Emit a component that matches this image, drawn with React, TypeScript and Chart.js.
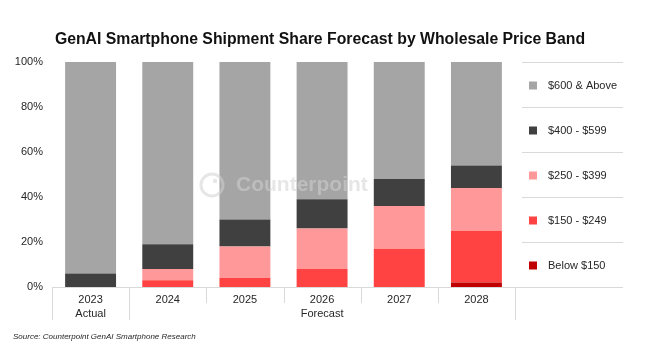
import React, { useEffect, useRef } from "react";
import { Chart, registerables } from "chart.js";

Chart.register(...registerables);

const TITLE = "GenAI Smartphone Shipment Share Forecast by Wholesale Price Band";
const SOURCE = "Source: Counterpoint GenAI Smartphone Research";
const years = ["2023", "2024", "2025", "2026", "2027", "2028"];
const periodGroups = [
  { label: "Actual", from: 0, to: 0 },
  { label: "Forecast", from: 1, to: 5 },
];
const below150 = [0, 0, 0, 0, 0, 2];
const band150 = [0, 3, 4, 8, 17, 23];
const band250 = [0, 5, 14, 18, 19, 19];
const band400 = [6, 11, 12, 13, 12, 10];
const above600 = [94, 81, 70, 61, 52, 46];
const yTicks = [0, 20, 40, 60, 80, 100];

const FONT = "'Liberation Sans', Arial, sans-serif";
const LINE = "#d9d9d9";
const TEXT = "#262626";

const decorPlugin = {
  id: "decor",
  afterDatasetsDraw(chart: any) {
    const { ctx, chartArea } = chart;
    const x = chart.scales.x;
    ctx.save();
    // watermark
    ctx.strokeStyle = "rgba(210,210,210,0.55)";
    ctx.lineWidth = 3;
    ctx.beginPath();
    ctx.arc(212, 185, 11, 0, Math.PI * 2);
    ctx.stroke();
    ctx.fillStyle = "rgba(210,210,210,0.55)";
    ctx.beginPath();
    ctx.arc(215, 181, 2.2, 0, Math.PI * 2);
    ctx.fill();
    ctx.font = `bold 21px ${FONT}`;
    ctx.textBaseline = "middle";
    ctx.textAlign = "left";
    ctx.fillText("Counterpoint", 236, 185);

    // axis baseline
    const bottom = chartArea.bottom;
    const half = (x.getPixelForValue(1) - x.getPixelForValue(0)) / 2;
    ctx.strokeStyle = LINE;
    ctx.lineWidth = 1;
    ctx.beginPath();
    ctx.moveTo(chartArea.left, bottom + 0.5);
    ctx.lineTo(623, bottom + 0.5);
    ctx.stroke();

    // category separators
    for (let i = 0; i <= years.length; i++) {
      const px = Math.round(x.getPixelForValue(i) - half) + 0.5;
      const long = periodGroups.some((g) => g.from === i || g.to + 1 === i);
      ctx.beginPath();
      ctx.moveTo(px, bottom);
      ctx.lineTo(px, bottom + (long ? 33 : 16));
      ctx.stroke();
    }

    // group labels
    ctx.fillStyle = TEXT;
    ctx.font = `11px ${FONT}`;
    ctx.textAlign = "center";
    ctx.textBaseline = "middle";
    periodGroups.forEach((g) => {
      const a = x.getPixelForValue(g.from) - half;
      const b = x.getPixelForValue(g.to) + half;
      ctx.fillText(g.label, (a + b) / 2, 314);
    });

    // legend
    const rowH = (bottom - chartArea.top) / chart.data.datasets.length;
    ctx.strokeStyle = LINE;
    const ds = [...chart.data.datasets].reverse();
    ds.forEach((d: any, i: number) => {
      const top = chartArea.top + i * rowH;
      ctx.beginPath();
      ctx.moveTo(522, Math.round(top) + 0.5);
      ctx.lineTo(623, Math.round(top) + 0.5);
      ctx.stroke();
      const cyy = top + rowH / 2 + 1;
      ctx.fillStyle = d.backgroundColor;
      ctx.fillRect(529, cyy - 4, 8, 8);
      ctx.fillStyle = TEXT;
      ctx.textAlign = "left";
      ctx.fillText(d.label, 548, cyy);
    });

    // title
    ctx.fillStyle = "#111";
    ctx.font = `bold 15.8px ${FONT}`;
    ctx.textAlign = "center";
    ctx.fillText(TITLE, 320, 40);

    // source
    ctx.fillStyle = TEXT;
    ctx.font = `italic 8px ${FONT}`;
    ctx.textAlign = "left";
    ctx.fillText(SOURCE, 13, 337);
    ctx.restore();
  },
};

export default function App() {
  const ref = useRef<HTMLCanvasElement>(null);
  useEffect(() => {
    document.body.style.margin = "0";
    const chart = new Chart(ref.current!, {
      type: "bar",
      data: {
        labels: years,
        datasets: [
          { label: "Below $150", data: below150, backgroundColor: "#C00000" },
          { label: "$150 - $249", data: band150, backgroundColor: "#FF4343" },
          { label: "$250 - $399", data: band250, backgroundColor: "#FF9999" },
          { label: "$400 - $599", data: band400, backgroundColor: "#404040" },
          { label: "$600 & Above", data: above600, backgroundColor: "#A5A5A5" },
        ],
      },
      options: {
        animation: false,
        responsive: false,
        maintainAspectRatio: false,
        layout: { padding: { top: 62, right: 135, left: 0, bottom: 0 } },
        plugins: { legend: { display: false }, title: { display: false }, tooltip: { enabled: false } },
        datasets: { bar: { barPercentage: 0.66, categoryPercentage: 1 } },
        scales: {
          x: {
            stacked: true,
            grid: { display: false },
            border: { display: false },
            ticks: { color: TEXT, font: { family: FONT, size: 11 }, padding: -2 },
            afterFit: (s: any) => { s.height = 63; },
          },
          y: {
            stacked: true,
            min: 0,
            max: 100,
            afterBuildTicks: (s: any) => { s.ticks = yTicks.map((v) => ({ value: v })); },
            grid: { display: false, drawTicks: false },
            border: { display: false },
            ticks: {
              color: TEXT,
              font: { family: FONT, size: 11 },
              padding: 9,
              callback: (v: any) => v + "%",
            },
            afterFit: (s: any) => { s.width = 52; },
          },
        },
      },
      plugins: [decorPlugin],
    });
    return () => chart.destroy();
  }, []);
  return (
    <div style={{ width: 650, height: 350, position: "relative", background: "#fff" }}>
      <canvas ref={ref} width={650} height={350} style={{ display: "block" }} />
    </div>
  );
}
